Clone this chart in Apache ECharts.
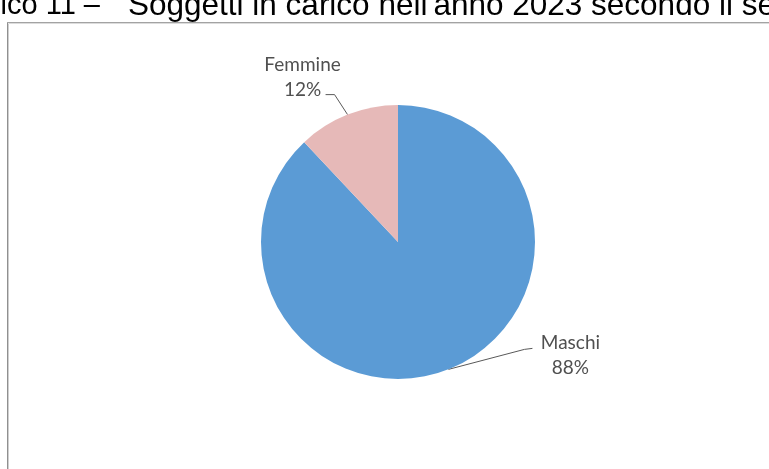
<!DOCTYPE html>
<html>
<head>
<meta charset="utf-8">
<script src="https://cdn.jsdelivr.net/npm/echarts@6/dist/echarts.min.js"></script>
<style>
  html, body { margin: 0; padding: 0; background: #ffffff; }
  #chart { width: 769px; height: 469px; }
</style>
</head>
<body>
<div id="chart"></div>
<script>
// ---- data ----
const titlePrefix = 'Grafico 11 –';
const titleMain = "Soggetti in carico nell'anno 2023 secondo il sesso";
const categories = ['Maschi', 'Femmine'];
const values = [88, 12];
const colors = ['#5b9bd5', '#e6b9b8'];

// ---- label placement (style, relative to the library's anchor point) ----
const labelOffsets = { Maschi: [122, -14], Femmine: [-45, -37] };
const leaderBends = {
  Maschi: [[76, -20], [84, -21]],
  Femmine: [[-13, -20], [-22, -20]]
};

const chart = echarts.init(document.getElementById('chart'), null, { renderer: 'canvas' });

const option = {
  backgroundColor: '#ffffff',
  animation: false,
  graphic: [
    { type: 'line', shape: { x1: 7.5, y1: 22.5, x2: 7.5, y2: 469 }, style: { stroke: '#909090', lineWidth: 1 } },
    { type: 'line', shape: { x1: 8.5, y1: 23.5, x2: 8.5, y2: 469 }, style: { stroke: '#cfcfcf', lineWidth: 1 } },
    { type: 'line', shape: { x1: 7, y1: 22.5, x2: 769, y2: 22.5 }, style: { stroke: '#a3a3a3', lineWidth: 1 } },
    { type: 'line', shape: { x1: 9, y1: 23.5, x2: 769, y2: 23.5 }, style: { stroke: '#dcdcdc', lineWidth: 1 } },
    {
      type: 'text', x: 100, y: 6,
      style: { text: titlePrefix, fill: '#000000', font: '29px "Liberation Sans", Arial, sans-serif', align: 'right', verticalAlign: 'middle' }
    },
    {
      type: 'text', x: 128, y: 6,
      style: { text: titleMain, fill: '#000000', font: '31.5px "Liberation Sans", Arial, sans-serif', align: 'left', verticalAlign: 'middle' }
    }
  ],
  series: [{
    type: 'pie',
    center: [398, 242],
    radius: 137,
    startAngle: 90,
    clockwise: true,
    avoidLabelOverlap: false,
    data: categories.map((c, i) => ({ name: c, value: values[i], itemStyle: { color: colors[i] } })),
    itemStyle: { borderWidth: 0 },
    emphasis: { disabled: true },
    label: {
      show: true,
      position: 'outside',
      formatter: p => p.name + '\n' + Math.round(p.percent) + '%',
      fontFamily: 'Lato, "Open Sans", sans-serif',
      fontSize: 19,
      lineHeight: 25,
      color: '#505050'
    },
    labelLine: {
      show: true,
      length: 20,
      length2: 10,
      lineStyle: { color: '#595959', width: 1 }
    },
    labelLayout: function (params) {
      const name = categories[params.dataIndex];
      const pts = params.labelLinePoints;
      if (!pts || !pts.length) return {};
      const a = pts[0];
      const off = labelOffsets[name];
      return {
        x: a[0] + off[0],
        y: a[1] + off[1],
        align: 'center',
        verticalAlign: 'middle',
        labelLinePoints: [[a[0], a[1]]].concat(leaderBends[name].map(p => [a[0] + p[0], a[1] + p[1]]))
      };
    }
  }]
};

chart.setOption(option);
</script>
</body>
</html>
